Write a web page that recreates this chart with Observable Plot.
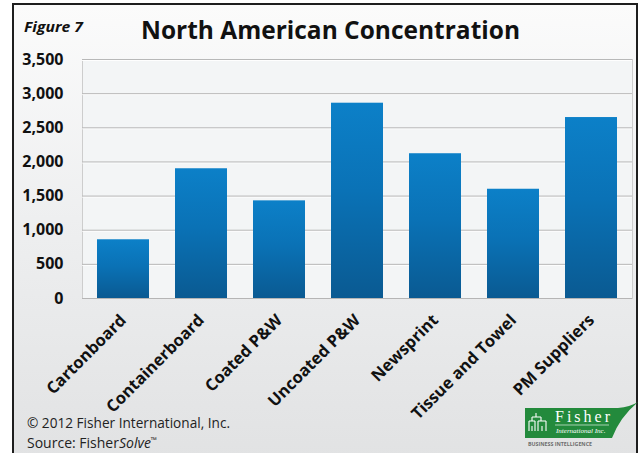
<!DOCTYPE html>
<html>
<head>
<meta charset="utf-8">
<script src="https://cdn.jsdelivr.net/npm/d3@7"></script>
<script src="https://cdn.jsdelivr.net/npm/@observablehq/plot@0.6"></script>
<style>
  html, body { margin: 0; padding: 0; background: #ffffff; }
  #wrap { position: relative; width: 644px; height: 453px; overflow: hidden; background: #ffffff; }
  #card {
    position: absolute; left: 12px; top: 3px; width: 626px; height: 480px;
    border: 2.5px solid #1e1e1e; box-sizing: border-box;
    background: linear-gradient(to bottom, #fbfbfb 0%, #eeeff0 45%, #e0e1e2 100%);
  }
  #chart, #notes { position: absolute; left: 0; top: 0; }
</style>
</head>
<body>
<div id="wrap">
  <div id="card"></div>
  <div id="chart"></div>
  <svg id="notes" width="644" height="453"></svg>
</div>
<script>
// Mill capacity by grade, North America
const categories = ["Cartonboard", "Containerboard", "Coated P&W", "Uncoated P&W", "Newsprint", "Tissue and Towel", "PM Suppliers"];
const values = [860, 1900, 1430, 2860, 2120, 1600, 2650];
const yTicks = [0, 500, 1000, 1500, 2000, 2500, 3000, 3500];

const figureLabel = "Figure 7";
const title = "North American Concentration";
const copyright = "© 2012 Fisher International, Inc.";

const rows = categories.map((c, i) => ({category: c, value: values[i]}));
const font = "'Open Sans', 'Noto Sans', sans-serif";

const chart = Plot.plot({
  width: 644,
  height: 453,
  marginLeft: 82,
  marginRight: 12,
  marginTop: 59,
  marginBottom: 155,
  style: {background: "transparent", color: "#111", fontFamily: font},
  x: {domain: categories, paddingInner: 0.33, paddingOuter: 0.165, label: null},
  y: {domain: [0, 3500], label: null},
  marks: [
    Plot.frame({fill: "#f3f5f6", stroke: "#cdcdcd"}),
    Plot.ruleY(yTicks.slice(1), {stroke: "#ffffff", strokeOpacity: 0.9, dy: 1}),
    Plot.ruleY(yTicks.slice(1), {stroke: "#b8b8b8"}),
    Plot.barY(rows, {x: "category", y: "value", fill: "url(#barGrad)"}),
    Plot.ruleY([0], {stroke: "#b5b5b5"}),
    Plot.axisY({ticks: yTicks, tickFormat: d3.format(","), tickSize: 0, tickPadding: 19,
      fontSize: 16, fontWeight: "bold", label: null}),
    Plot.axisX({tickRotate: -45, tickSize: 0, tickPadding: 19, fontSize: 16.5, fontWeight: "bold", label: null})
  ]
});

// vertical blue gradient used by every bar
d3.select(chart).insert("defs", ":first-child").html(`
  <linearGradient id="barGrad" x1="0" y1="0" x2="0" y2="1">
    <stop offset="0" stop-color="#0c80c8"/>
    <stop offset="0.45" stop-color="#0a72b6"/>
    <stop offset="1" stop-color="#0a5a92"/>
  </linearGradient>`);
document.getElementById("chart").appendChild(chart);

// heading, footer and logo
const notes = d3.select("#notes").style("font-family", font);

notes.append("text").attr("x", 24).attr("y", 32)
  .attr("font-size", 15).attr("font-weight", "bold").attr("font-style", "italic")
  .attr("fill", "#111").attr("textLength", 59).attr("lengthAdjust", "spacingAndGlyphs")
  .text(figureLabel);

notes.append("text").attr("x", 141).attr("y", 39)
  .attr("font-size", 24.5).attr("font-weight", "bold").attr("fill", "#111")
  .attr("textLength", 379).attr("lengthAdjust", "spacingAndGlyphs")
  .text(title);

notes.append("text").attr("x", 27).attr("y", 428)
  .attr("font-size", 14).attr("fill", "#222")
  .attr("textLength", 203).attr("lengthAdjust", "spacingAndGlyphs")
  .text(copyright);

const src = notes.append("text").attr("x", 27).attr("y", 448)
  .attr("font-size", 14).attr("fill", "#222")
  .attr("textLength", 130).attr("lengthAdjust", "spacingAndGlyphs");
src.append("tspan").text("Source: Fisher");
src.append("tspan").attr("font-style", "italic").text("Solve");
src.append("tspan").attr("font-size", 8).attr("dy", -5).text("™");

// Fisher International logo
const logo = notes.append("g");
logo.append("path")
  .attr("d", "M525,408 L618,408 Q630,407 638,402 Q620,417 612,438 L525,438 Z")
  .attr("fill", "#238a3c");
logo.append("path")
  .attr("d", "M536,413 v4 M532,417 h9 M532,417 v4 M541,417 v4 M529,421 h6 M538,421 h8 M529,421 v5 M535,421 v5 M538,421 v5 M546,421 v5 M529,426 v5 M535,426 v5 M538,426 v5 M546,426 v5 M532,426 v5 M542,426 v5")
  .attr("stroke", "#ffffff").attr("stroke-width", 1.1).attr("fill", "none");
logo.append("text").attr("x", 555).attr("y", 422)
  .attr("font-family", "'Liberation Serif', 'DejaVu Serif', serif").attr("font-size", 16)
  .attr("fill", "#ffffff").attr("textLength", 55).attr("lengthAdjust", "spacing").text("Fisher");
logo.append("line").attr("x1", 555).attr("x2", 609).attr("y1", 425).attr("y2", 425)
  .attr("stroke", "#ffffff").attr("stroke-width", 0.6);
logo.append("text").attr("x", 556).attr("y", 433)
  .attr("font-family", "'Liberation Serif', 'DejaVu Serif', serif").attr("font-size", 7)
  .attr("font-style", "italic").attr("fill", "#ffffff").text("International Inc.");
logo.append("text").attr("x", 528).attr("y", 446)
  .attr("font-size", 4.5).attr("font-weight", "bold").attr("fill", "#6d6d6d")
  .attr("textLength", 64).attr("lengthAdjust", "spacingAndGlyphs").text("BUSINESS INTELLIGENCE");
</script>
</body>
</html>
